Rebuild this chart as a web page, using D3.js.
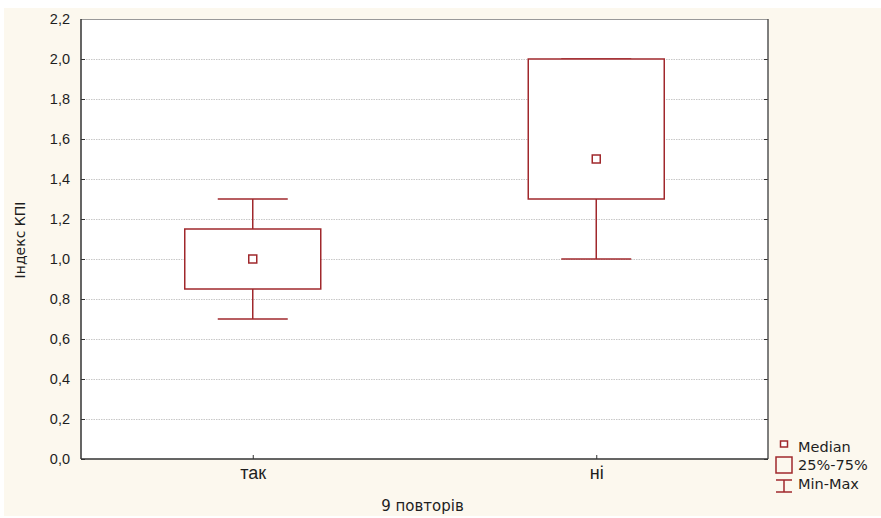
<!DOCTYPE html>
<html>
<head>
<meta charset="utf-8">
<script src="https://cdn.jsdelivr.net/npm/d3@7"></script>
<style>
  html, body { margin: 0; padding: 0; background: #ffffff; }
  svg { display: block; font-family: "DejaVu Sans", Verdana, sans-serif; }
</style>
</head>
<body>
<svg id="chart" width="881" height="518"></svg>
<script>
// Box plot of the KPI index by group
const categories = ["так", "ні"];
const minValues    = [0.70, 1.00];
const q1Values     = [0.85, 1.30];
const medianValues = [1.00, 1.50];
const q3Values     = [1.15, 2.00];
const maxValues    = [1.30, 2.00];
const yTicks = [0, 0.2, 0.4, 0.6, 0.8, 1.0, 1.2, 1.4, 1.6, 1.8, 2.0, 2.2];
const legendItems = ["Median", "25%-75%", "Min-Max"];

const boxColor = "#a0282c";
const textColor = "#1e1e1e";
const svg = d3.select("#chart");
const W = 881, H = 518;
const m = { left: 81, right: 113, top: 19, bottom: 59 };
const plotW = W - m.left - m.right;
const plotH = H - m.top - m.bottom;

// outer panel
svg.append("rect").attr("x", 4).attr("y", 8).attr("width", W - 4).attr("height", H - 10)
  .attr("fill", "#fcf8ee");

const g = svg.append("g").attr("transform", `translate(${m.left},${m.top})`);
g.append("rect").attr("width", plotW).attr("height", plotH).attr("fill", "#ffffff");

const y = d3.scaleLinear().domain([0, 2.2]).range([plotH, 0]);
const x = d3.scalePoint().domain(categories).range([0, plotW]).padding(0.5);

// gridlines
g.append("g").selectAll("line").data(yTicks.filter(t => t > 0 && t < 2.2)).join("line")
  .attr("x1", 0).attr("x2", plotW)
  .attr("y1", d => Math.round(y(d)) + 0.5).attr("y2", d => Math.round(y(d)) + 0.5)
  .attr("stroke", "#c8c8c8").attr("stroke-width", 1).attr("stroke-dasharray", "1.5,1");

const fmt = d => d3.format(".1f")(d).replace(".", ",");

// left axis with inward ticks
const yAxis = g.append("g").call(d3.axisLeft(y).tickValues(yTicks).tickSize(-4).tickPadding(11).tickFormat(fmt));
yAxis.select(".domain").remove();
yAxis.selectAll(".tick line").attr("stroke", "#333");
yAxis.selectAll(".tick text").attr("font-size", 14.5).attr("fill", textColor);

// right axis ticks
const yAxisR = g.append("g").attr("transform", `translate(${plotW},0)`)
  .call(d3.axisRight(y).tickValues(yTicks).tickSize(-4).tickFormat(""));
yAxisR.select(".domain").remove();
yAxisR.selectAll(".tick line").attr("stroke", "#333");

// bottom axis ticks and labels
const xAxis = g.append("g").attr("transform", `translate(0,${plotH})`)
  .call(d3.axisBottom(x).tickSize(-4).tickPadding(7));
xAxis.select(".domain").remove();
xAxis.selectAll(".tick line").attr("stroke", "#333");
xAxis.selectAll(".tick text").attr("font-size", 18).attr("fill", textColor);

// frame
g.append("line").attr("x1", 0).attr("x2", plotW).attr("y1", 0.5).attr("y2", 0.5)
  .attr("stroke", "#999").attr("stroke-width", 1);
g.append("line").attr("x1", 0).attr("x2", 0).attr("y1", 0).attr("y2", plotH)
  .attr("stroke", "#333").attr("stroke-width", 1.5);
g.append("line").attr("x1", plotW).attr("x2", plotW).attr("y1", 0).attr("y2", plotH)
  .attr("stroke", "#555").attr("stroke-width", 1.5);
g.append("line").attr("x1", 0).attr("x2", plotW).attr("y1", plotH).attr("y2", plotH)
  .attr("stroke", "#333").attr("stroke-width", 1.5);

// boxes
const boxW = 136, capW = 70, medS = 8;
const data = categories.map((c, i) => ({
  c, min: minValues[i], q1: q1Values[i], med: medianValues[i], q3: q3Values[i], max: maxValues[i]
}));
const bx = g.append("g").selectAll("g").data(data).join("g");
bx.append("line").attr("x1", d => x(d.c)).attr("x2", d => x(d.c))
  .attr("y1", d => y(d.max)).attr("y2", d => y(d.q3)).attr("stroke", boxColor).attr("stroke-width", 1.5);
bx.append("line").attr("x1", d => x(d.c)).attr("x2", d => x(d.c))
  .attr("y1", d => y(d.q1)).attr("y2", d => y(d.min)).attr("stroke", boxColor).attr("stroke-width", 1.5);
bx.append("line").attr("x1", d => x(d.c) - capW / 2).attr("x2", d => x(d.c) + capW / 2)
  .attr("y1", d => y(d.max)).attr("y2", d => y(d.max)).attr("stroke", boxColor).attr("stroke-width", 1.5);
bx.append("line").attr("x1", d => x(d.c) - capW / 2).attr("x2", d => x(d.c) + capW / 2)
  .attr("y1", d => y(d.min)).attr("y2", d => y(d.min)).attr("stroke", boxColor).attr("stroke-width", 1.5);
bx.append("rect").attr("x", d => x(d.c) - boxW / 2).attr("width", boxW)
  .attr("y", d => y(d.q3)).attr("height", d => y(d.q1) - y(d.q3))
  .attr("fill", "#ffffff").attr("stroke", boxColor).attr("stroke-width", 1.5);
bx.append("rect").attr("x", d => x(d.c) - medS / 2).attr("y", d => y(d.med) - medS / 2)
  .attr("width", medS).attr("height", medS)
  .attr("fill", "#ffffff").attr("stroke", boxColor).attr("stroke-width", 1.5);

// axis titles
svg.append("text").attr("transform", `translate(25,240) rotate(-90)`)
  .attr("text-anchor", "middle").attr("font-size", 14).attr("fill", textColor).text("Індекс КПІ");
svg.append("text").attr("x", m.left + plotW / 2 - 2).attr("y", 511)
  .attr("text-anchor", "middle").attr("font-size", 15).attr("fill", textColor).text("9 повторів");

// legend
const lg = svg.append("g").attr("transform", "translate(784,0)");
lg.append("rect").attr("x", -3.5).attr("y", 441).attr("width", 7).attr("height", 6)
  .attr("fill", "#fff").attr("stroke", boxColor).attr("stroke-width", 1.5);
lg.append("rect").attr("x", -8).attr("y", 457).attr("width", 16).attr("height", 16)
  .attr("fill", "none").attr("stroke", boxColor).attr("stroke-width", 1.5);
lg.append("line").attr("x1", 0).attr("x2", 0).attr("y1", 480).attr("y2", 492)
  .attr("stroke", boxColor).attr("stroke-width", 1.5);
lg.append("line").attr("x1", -8).attr("x2", 8).attr("y1", 480).attr("y2", 480)
  .attr("stroke", boxColor).attr("stroke-width", 1.5);
lg.append("line").attr("x1", -8).attr("x2", 8).attr("y1", 492).attr("y2", 492)
  .attr("stroke", boxColor).attr("stroke-width", 1.5);
lg.selectAll("text.leg").data(legendItems).join("text").attr("class", "leg")
  .attr("x", 14).attr("y", (d, i) => [452, 470, 489][i])
  .attr("font-size", 14.5).attr("fill", textColor).text(d => d);
</script>
</body>
</html>
